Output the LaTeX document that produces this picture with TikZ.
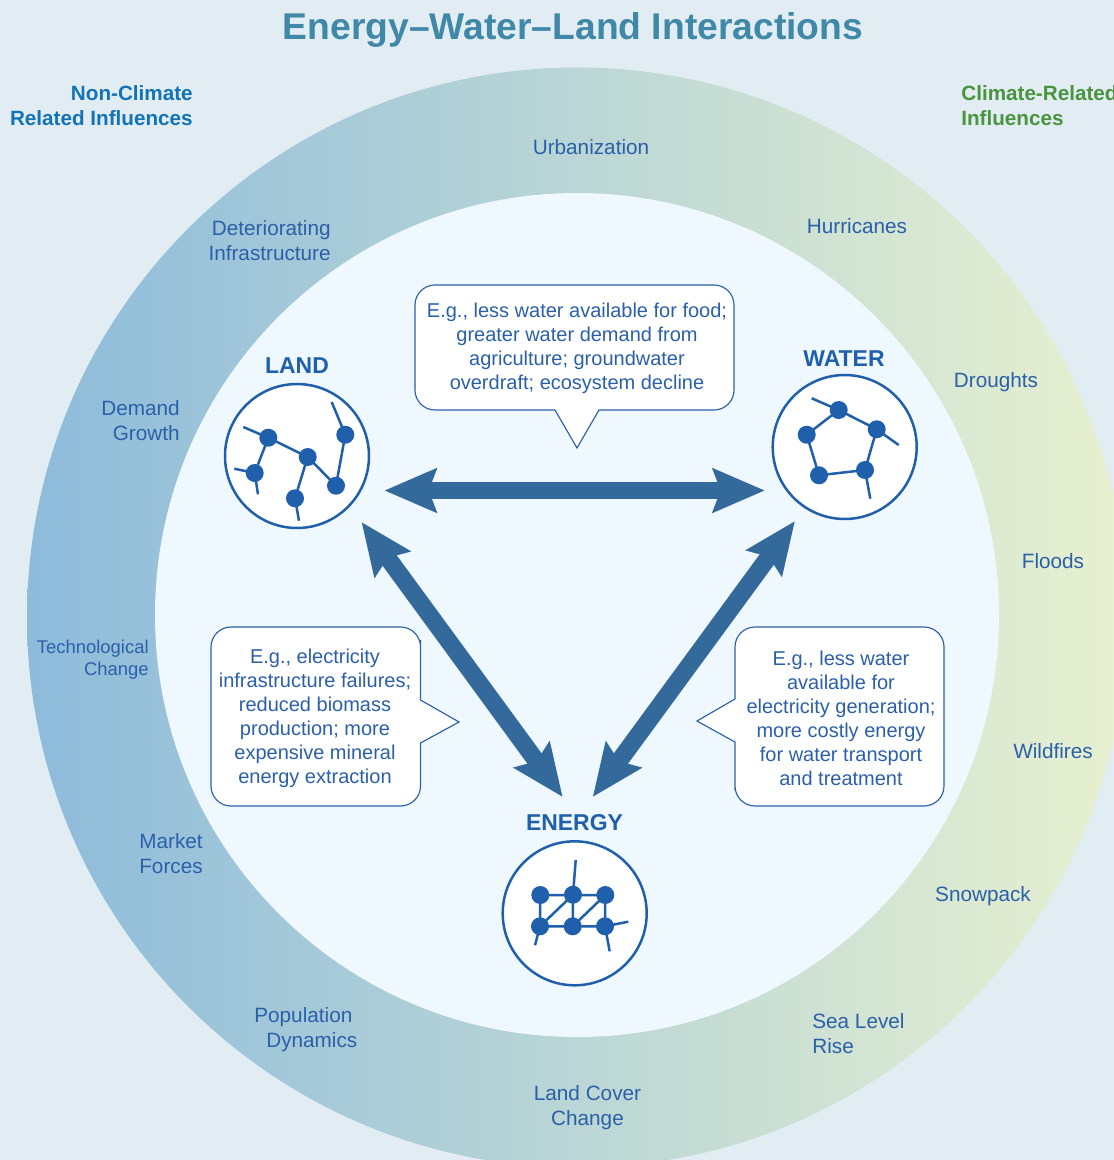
\documentclass[tikz,border=0pt]{standalone}
\usepackage{fontspec}
\setmainfont{Liberation Sans}
\usetikzlibrary{arrows.meta}
\definecolor{pageBg}{HTML}{E1EDF2}
\definecolor{innerBg}{HTML}{EFF8FE}
\definecolor{ringL}{HTML}{8DBBDB}
\definecolor{ringM}{HTML}{BBD5D5}
\definecolor{ringR}{HTML}{E8F1D0}
\definecolor{inkBlue}{HTML}{1F5FAB}
\definecolor{textBlue}{HTML}{2B60A9}
\definecolor{flowBlue}{HTML}{33699B}
\definecolor{titleBlue}{HTML}{4088A8}
\definecolor{headBlue}{HTML}{1273B6}
\definecolor{headGreen}{HTML}{4A9440}
\tikzset{
  tag/.style = {color=textBlue, inner sep=0pt, font=\fontsize{11.8}{14.23}\selectfont},
  tag small/.style = {tag, font=\fontsize{10.5}{12.52}\selectfont},
  head/.style = {color=#1, inner sep=0pt, font=\bfseries\fontsize{11.76}{14.23}\selectfont},
  note/.style = {color=textBlue, inner sep=0pt, align=center, font=\fontsize{11.38}{13.66}\selectfont},
  bubble/.style = {draw=textBlue, fill=white, line width=0.65pt},
  flow/.style = {color=#1, line width=10pt, {Stealth[length=29.4pt,width=24.4pt,inset=4.2pt]}-{Stealth[length=29.4pt,width=24.4pt,inset=4.2pt]}},
  badge/.style = {circle, draw=inkBlue, fill=white, line width=1.42pt, minimum size=2.88cm, inner sep=0pt},
  badge title/.style = {color=inkBlue, inner sep=0pt, font=\bfseries\fontsize{13.05}{15}\selectfont},
  hubDot/.style = {circle, fill=inkBlue, inner sep=0pt, minimum size=0.36cm},
  twig/.style = {color=inkBlue, line width=1.42pt}
}
\newcommand{\hub}[2]{\node[hubDot] (#1) at (#2) {};}
\begin{document}
\begin{tikzpicture}[x=0.02cm, y=-0.02cm]
    \useasboundingbox (0,0) rectangle (1114,1160);
    \clip (0,0) rectangle (1114,1160);

    %==== Background ====
    \fill[pageBg] (0,0) rectangle (1114,1160);
    \shade[left color=ringL, middle color=ringM, right color=ringR] (577,617.5) circle (550);
    \fill[innerBg] (577,615) circle (422);

    % Title
    \node[color=titleBlue, inner sep=0pt, font=\bfseries\fontsize{21.2}{25}\selectfont] (title) at (573,30) {Energy--Water--Land Interactions};

    % Side headings
    \node[head={headBlue}, align=right, anchor=east] (headNon) at (193,105.5) {Non-Climate\\Related Influences};
    \node[head={headGreen}, align=left, anchor=west] (headClim) at (961,105.5) {Climate-Related\\Influences};

    %==== Ring labels ====
    \node[tag] (tagUrban) at (591,147) {Urbanization};
    \node[tag, align=right, anchor=east] (tagInfra) at (331,241) {Deteriorating\\Infrastructure};
    \node[tag, align=right, anchor=east] (tagDemand) at (180,420.5) {Demand\\Growth};
    \node[tag small, align=right, anchor=east] (tagTech) at (149,660) {Technological\\Change};
    \node[tag, align=center] (tagMarket) at (171,853.5) {Market\\Forces};
    \node[tag, align=left, anchor=west] (tagPop) at (254,1029.5) {Population\\\hspace*{6.8pt}Dynamics};
    \node[tag, align=center] (tagCover) at (587.5,1108) {Land Cover\\Change};
    \node[tag] (tagHurricanes) at (857,226.5) {Hurricanes};
    \node[tag] (tagDroughts) at (996,382) {Droughts};
    \node[tag] (tagFloods) at (1053,561) {Floods};
    \node[tag] (tagWildfires) at (1053,751) {Wildfires};
    \node[tag] (tagSnow) at (983,896) {Snowpack};
    \node[tag, align=left, anchor=west] (tagSea) at (812,1033.5) {Sea Level\\Rise};

    %==== Callouts ====
    \draw[bubble] (599,410) [rounded corners=0.4cm] -- (734,410) -- (734,285) -- (415,285) -- (415,410) -- (500,410) [sharp corners] -- (555,410) -- (577,448) -- cycle;
    \node[note] (noteFood) at (577,348) {E.g., less water available for food;\\greater water demand from\\agriculture; groundwater\\overdraft; ecosystem decline};

    \draw[bubble] (420.5,743) [rounded corners=0.4cm] -- (420.5,806) -- (211,806) -- (211,627) -- (420.5,627) -- (420.5,660) [sharp corners] -- (420.5,700) -- (459,722) -- cycle;
    \node[note] (noteGrid) at (315,718) {E.g., electricity\\infrastructure failures;\\reduced biomass\\production; more\\expensive mineral\\energy extraction};

    \draw[bubble] (735,699) [rounded corners=0.4cm] -- (735,627) -- (944,627) -- (944,806) -- (735,806) -- (735,770) [sharp corners] -- (735,742) -- (697,721) -- cycle;
    \node[note] (notePower) at (841,718) {E.g., less water\\available for\\electricity generation;\\more costly energy\\for water transport\\and treatment};

    %==== Arrows ====
    \coordinate (landE) at (384.3,490.5);
    \coordinate (waterW) at (765,490.5);
    \coordinate (landS) at (361.5,522);
    \coordinate (energyNW) at (562.7,797);
    \coordinate (waterS) at (795,521);
    \coordinate (energyNE) at (592.7,797);
    \draw[flow={flowBlue}] (landE) -- (waterW);
    \draw[flow={flowBlue}] (landS) -- (energyNW);
    \draw[flow={flowBlue}] (waterS) -- (energyNE);

    %==== LAND ====
    \node[badge] (land) at (297,456) {};
    \node[badge title] (landTitle) at (297,366) {LAND};
    \hub{l1}{268.3,437.7}
    \hub{l2}{345.3,434.7}
    \hub{l3}{307.7,457}
    \hub{l4}{254.7,473}
    \hub{l5}{336,485.7}
    \hub{l6}{295,498.3}
    \coordinate (le1) at (243.3,427);
    \coordinate (le2) at (331.7,402);
    \coordinate (le3) at (234.3,468.7);
    \coordinate (le4) at (258,494.3);
    \coordinate (le5) at (299,520.7);
    \draw[twig] (l1.center) -- (l3.center) -- (l5.center) -- (l2.center) -- (le2);
    \draw[twig] (le1) -- (l1.center) -- (l4.center) -- (le4);
    \draw[twig] (le3) -- (l4.center);
    \draw[twig] (l3.center) -- (l6.center) -- (le5);

    %==== WATER ====
    \node[badge] (water) at (844.7,447) {};
    \node[badge title] (waterTitle) at (844,358.5) {WATER};
    \hub{w1}{838.7,410}
    \hub{w2}{876.7,429.3}
    \hub{w3}{806.7,434.7}
    \hub{w4}{865,470}
    \hub{w5}{819,475.3}
    \coordinate (we1) at (811.7,398.3);
    \coordinate (we2) at (898.7,445);
    \coordinate (we3) at (870.3,498.7);
    \draw[twig] (we1) -- (w1.center) -- (w2.center) -- (we2);
    \draw[twig] (w1.center) -- (w3.center) -- (w5.center) -- (w4.center) -- (we3);
    \draw[twig] (w2.center) -- (w4.center);

    %==== ENERGY ====
    \node[badge] (energy) at (574.7,913.3) {};
    \node[badge title] (energyTitle) at (574.5,822.5) {ENERGY};
    \hub{e1}{540.3,895}
    \hub{e2}{573,894.7}
    \hub{e3}{605.3,895}
    \hub{e4}{540,926.3}
    \hub{e5}{572.7,926.3}
    \hub{e6}{605,926.3}
    \coordinate (ee1) at (575.7,860);
    \coordinate (ee2) at (535,945.3);
    \coordinate (ee3) at (628.3,921.7);
    \coordinate (ee4) at (609.7,951.3);
    \draw[twig] (e1.center) -- (e3.center) -- (e6.center) -- (e4.center) -- (e1.center);
    \draw[twig] (ee1) -- (e2.center) -- (e5.center);
    \draw[twig] (e4.center) -- (e2.center);
    \draw[twig] (e5.center) -- (e3.center);
    \draw[twig] (e4.center) -- (ee2);
    \draw[twig] (e6.center) -- (ee3);
    \draw[twig] (e6.center) -- (ee4);
\end{tikzpicture}
\end{document}
